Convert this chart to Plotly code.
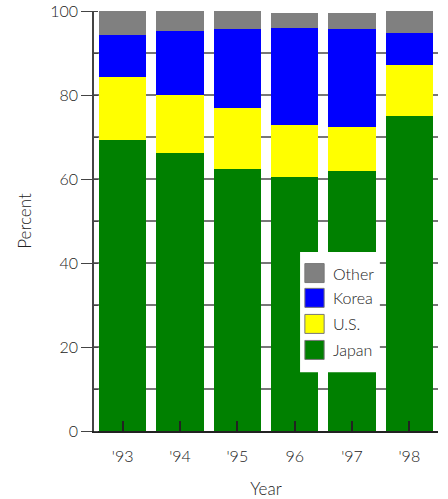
import plotly.graph_objects as go

years = ["'93", "'94", "'95", "96", "'97", "'98"]
japan = [69.3, 66.2, 62.4, 60.5, 61.9, 75.0]
us = [15.0, 13.8, 14.5, 12.4, 10.5, 12.1]
korea = [10.0, 15.2, 18.8, 23.1, 23.3, 7.7]
other = [5.7, 4.8, 4.3, 3.5, 3.8, 5.2]

series = [("Japan", japan, "#008000"), ("U.S.", us, "#FFFF00"),
          ("Korea", korea, "#0000FF"), ("Other", other, "#808080")]

fig = go.Figure()
for name, vals, col in series:
    fig.add_trace(go.Bar(x=years, y=vals, name=name, showlegend=False,
                         marker=dict(color=col, line=dict(width=0))))

font = "Lato, 'Open Sans', sans-serif"
txt = "#222222"

# manual legend (paper coords), to get large bordered swatches
shapes = [dict(type="rect", xref="paper", yref="paper", x0=0.599, x1=0.831,
               y0=0.140, y1=0.426, fillcolor="white", line=dict(width=0),
               layer="above")]
annotations = []
legend_rows = [("Other", "#808080", 0.376), ("Korea", "#0000FF", 0.317),
               ("U.S.", "#FFFF00", 0.255), ("Japan", "#008000", 0.193)]
for name, col, yc in legend_rows:
    shapes.append(dict(type="rect", xref="paper", yref="paper",
                       x0=0.613, x1=0.669, y0=yc - 0.0226, y1=yc + 0.0226,
                       fillcolor=col, line=dict(color="#777777", width=1),
                       layer="above"))
    annotations.append(dict(text=name, xref="paper", yref="paper",
                            x=0.69, y=yc, xanchor="left", yanchor="middle",
                            showarrow=False,
                            font=dict(family=font, size=16, color=txt,
                                      weight=300)))

fig.update_layout(
    barmode="stack", bargap=0.18,
    width=448, height=499,
    margin=dict(l=94, r=10, t=11, b=68, autoexpand=False),
    plot_bgcolor="white", paper_bgcolor="white",
    font=dict(family=font, size=16, color=txt, weight=300),
    shapes=shapes, annotations=annotations,
    xaxis=dict(type="category", automargin=False,
               title=dict(text="Year", standoff=22,
                          font=dict(size=17, weight=300)),
               ticks="inside", ticklen=10, tickcolor="#222", tickwidth=1.5,
               ticklabelstandoff=10,
               showline=True, linecolor="#222", linewidth=1.5,
               showgrid=False, zeroline=False),
    yaxis=dict(automargin=False,
               title=dict(text="Percent", standoff=14,
                          font=dict(size=17, weight=300)),
               range=[0, 100], ticklabeloverflow="allow",
               dtick=20, ticks="outside", ticklen=11, tickcolor="#444",
               showline=True, linecolor="#444", linewidth=1.5,
               showgrid=True, gridcolor="#777", gridwidth=1.5,
               zeroline=False,
               minor=dict(dtick=10, ticks="inside", ticklen=4,
                          tickcolor="#444", showgrid=True,
                          gridcolor="#777", gridwidth=1.5)),
)
fig.write_html("out.html", config={"displayModeBar": False},
               post_script="document.body.style.margin='0';"
                           "document.body.style.overflow='hidden';")
